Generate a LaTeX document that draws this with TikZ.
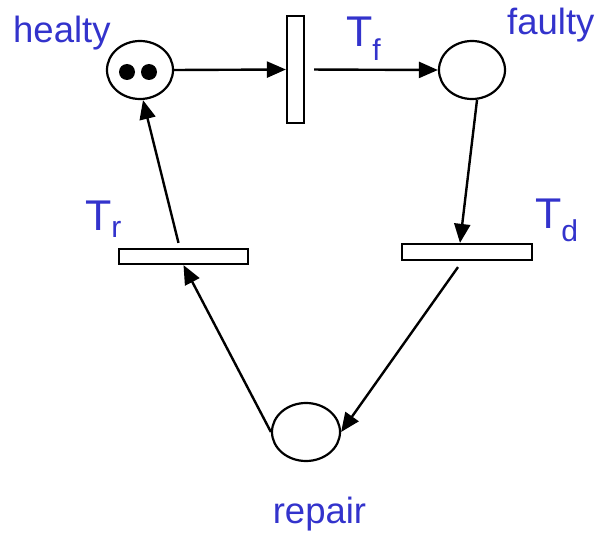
\documentclass[tikz,border=0pt]{standalone}
\usepackage{fontspec}
\setmainfont{Liberation Sans}
\usetikzlibrary{shapes.geometric,arrows.meta,calc}
\definecolor{lblue}{RGB}{51,51,204}
\begin{document}
\begin{tikzpicture}[x=1pt,y=-1pt,
  place/.style={draw,line width=2.2pt,ellipse,minimum width=66pt,minimum height=58pt,inner sep=0pt},
  trans/.style={draw,line width=2.2pt,rectangle,inner sep=0pt,fill=white},
  arc/.style={line width=2.4pt,-{Triangle[length=19pt,width=16pt]}},
  token/.style={circle,fill=black,inner sep=0pt,minimum size=16pt},
  lbl/.style={text=lblue,font=\fontsize{36.5}{38}\selectfont,inner sep=0pt},
  tlbl/.style={text=lblue,font=\fontsize{43}{45}\selectfont,inner sep=0pt}]
\useasboundingbox (0,0) rectangle (600,535);
\node[place] (healty) at (140,70) {};
\node[token] (k1) at (127,72) {};
\node[token] (k2) at (149,72) {};
\node[trans,minimum width=17pt,minimum height=107pt] (Tf) at (295.5,69.5) {};
\node[place] (faulty) at (472,70) {};
\node[trans,minimum width=130pt,minimum height=16pt] (Td) at (467,252) {};
\node[trans,minimum width=129pt,minimum height=15pt] (Tr) at (183.5,256.5) {};
\node[place,minimum width=68pt] (repair) at (306,432) {};
\node[lbl,anchor=base west] (lh) at (13,43) {healty};
\node[lbl,anchor=base west] (lf) at (507,35) {faulty};
\node[lbl,anchor=base] (lr) at (319.5,523) {repair};
\node[tlbl,anchor=base west] (tf) at (346,47) {T\textsubscript{f}};
\node[tlbl,anchor=base west] (tr) at (85,230) {T\textsubscript{r}};
\node[tlbl,anchor=base west] (td) at (535,228) {T\textsubscript{d}};
\draw[arc] (healty.east) -- (Tf.west);
\draw[arc,shorten <=9pt] (Tf.east) -- (faulty.west);
\draw[arc] ($(faulty.south)+(5,0)$) -- ($(Td.north)+(-7,0)$);
\draw[arc] ($(Td.south)+(-9,6)$) -- (repair.east);
\draw[arc] (repair.west) -- (Tr.south);
\draw[arc] ($(Tr.north)+(-5,-5)$) -- ($(healty.south)+(3,0)$);
\end{tikzpicture}
\end{document}
